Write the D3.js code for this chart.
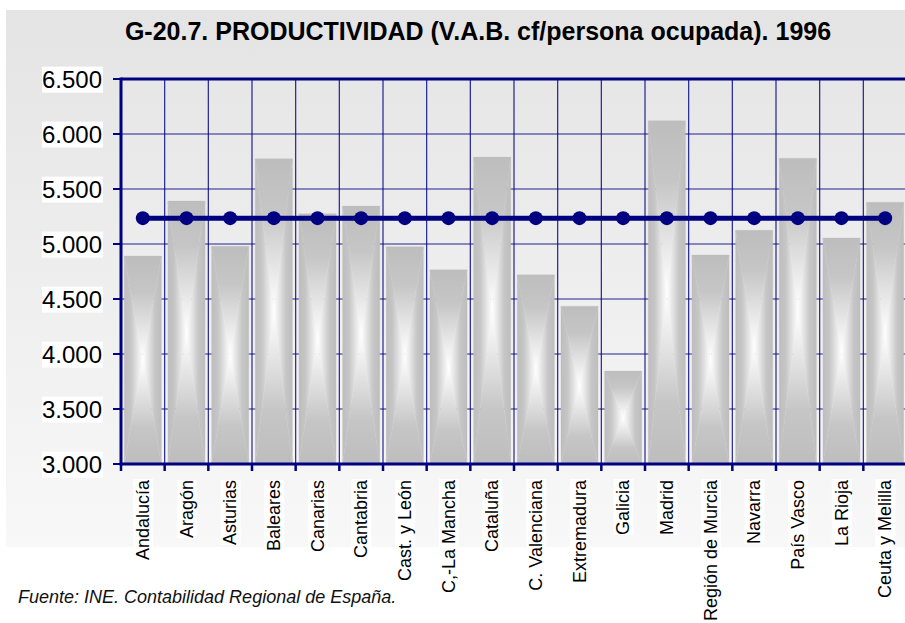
<!DOCTYPE html>
<html>
<head>
<meta charset="utf-8">
<script src="https://cdn.jsdelivr.net/npm/d3@7"></script>
<style>
  html, body { margin: 0; padding: 0; background: #fff; }
  svg { display: block; font-family: "Liberation Sans", Arial, sans-serif; }
</style>
</head>
<body>
<svg id="chart" width="905" height="623"></svg>
<script>
const categories = ["Andalucía","Aragón","Asturias","Baleares","Canarias","Cantabria","Cast. y León","C,-La Mancha","Cataluña","C. Valenciana","Extremadura","Galicia","Madrid","Región de Murcia","Navarra","País Vasco","La Rioja","Ceuta y Melilla"];
const productividad = [4890, 5390, 4980, 5775, 5275, 5345, 4975, 4765, 5790, 4720, 4435, 3845, 6120, 4900, 5125, 5780, 5055, 5380];
const media = [5235, 5235, 5235, 5235, 5235, 5235, 5235, 5235, 5235, 5235, 5235, 5235, 5235, 5235, 5235, 5235, 5235, 5235];
const yTicks = [3000, 3500, 4000, 4500, 5000, 5500, 6000, 6500];
const titleText = "G-20.7. PRODUCTIVIDAD (V.A.B. cf/persona ocupada). 1996";
const sourceText = "Fuente: INE. Contabilidad Regional de España.";

(function () {
const svg = d3.select("#chart");
const navy = "#000080";
const pL = 121, pR = 907, pT = 79, pB = 464;

const fmt = d => d3.format(",")(d).replace(/,/g, ".");

const defs = svg.append("defs");
const bg = defs.append("linearGradient").attr("id", "bg").attr("x1", 0).attr("y1", 0).attr("x2", 0).attr("y2", 1);
bg.append("stop").attr("offset", "0%").attr("stop-color", "#e4e4e4");
bg.append("stop").attr("offset", "100%").attr("stop-color", "#f8f8f8");

function grad(id, x1, y1, x2, y2) {
  const g = defs.append("linearGradient").attr("id", id)
    .attr("x1", x1).attr("y1", y1).attr("x2", x2).attr("y2", y2);
  g.append("stop").attr("offset", "0%").attr("stop-color", "#bdbdbd");
  g.append("stop").attr("offset", "35%").attr("stop-color", "#c6c6c6");
  g.append("stop").attr("offset", "100%").attr("stop-color", "#ffffff");
}
grad("gT", 0, 0, 0, 1);
grad("gB", 0, 1, 0, 0);
grad("gL", 0, 0, 1, 0);
grad("gR", 1, 0, 0, 0);

// chart background
svg.append("rect").attr("x", 6).attr("y", 10).attr("width", 905 - 6).attr("height", 547 - 10).attr("fill", "url(#bg)");

const x = d3.scaleBand().domain(categories).range([pL, pR]).padding(0);
const y = d3.scaleLinear().domain([3000, 6500]).range([pB, pT]);

// grid
const grid = svg.append("g");
grid.selectAll("line.h").data(yTicks.slice(1, -1)).join("line")
  .attr("x1", pL).attr("x2", pR)
  .attr("y1", d => y(d)).attr("y2", d => y(d))
  .attr("stroke", navy).attr("stroke-width", 1.2).attr("opacity", 0.85);
grid.selectAll("line.v").data(categories.slice(1)).join("line")
  .attr("x1", d => x(d)).attr("x2", d => x(d))
  .attr("y1", pT).attr("y2", pB)
  .attr("stroke", navy).attr("stroke-width", 1.2).attr("opacity", 0.85);

// bars with rectangular "from center" gradient
const bw = x.bandwidth() * 0.85;
const bars = svg.append("g");
categories.forEach((c, i) => {
  const x0 = x(c) + (x.bandwidth() - bw) / 2, x1 = x0 + bw;
  const y0 = y(productividad[i]), y1 = y(3000);
  const cx = (x0 + x1) / 2, cy = (y0 + y1) / 2;
  const g = bars.append("g");
  const poly = (pts, fill) => g.append("polygon").attr("points", pts.map(p => p.join(",")).join(" "))
    .attr("fill", fill).attr("stroke", fill).attr("stroke-width", 0.3);
  poly([[x0, y0], [x1, y0], [cx, cy]], "url(#gT)");
  poly([[x0, y1], [x1, y1], [cx, cy]], "url(#gB)");
  poly([[x0, y0], [x0, y1], [cx, cy]], "url(#gL)");
  poly([[x1, y0], [x1, y1], [cx, cy]], "url(#gR)");
});

// frame / axes
svg.append("line").attr("x1", pL).attr("x2", pR).attr("y1", pT).attr("y2", pT).attr("stroke", navy).attr("stroke-width", 3);
svg.append("line").attr("x1", pL).attr("x2", pL).attr("y1", pT - 1.5).attr("y2", pB + 1.5).attr("stroke", navy).attr("stroke-width", 3);
svg.append("line").attr("x1", pL).attr("x2", pR).attr("y1", pB).attr("y2", pB).attr("stroke", navy).attr("stroke-width", 3);

// y ticks & labels
const yAxis = svg.append("g");
yAxis.selectAll("line").data(yTicks).join("line")
  .attr("x1", 113).attr("x2", pL).attr("y1", d => y(d)).attr("y2", d => y(d))
  .attr("stroke", navy).attr("stroke-width", 2);
const yl = yAxis.selectAll("g.lab").data(yTicks).join("g").attr("class", "lab");
yl.append("rect").attr("fill", "#fff");
yl.append("text").attr("x", 102).attr("y", d => y(d)).attr("dy", "0.36em")
  .attr("text-anchor", "end").attr("font-size", 24).attr("fill", "#000").text(d => fmt(d));
yl.each(function() {
  const t = d3.select(this).select("text").node().getBBox();
  d3.select(this).select("rect").attr("x", t.x).attr("y", t.y + 1).attr("width", t.width + 1).attr("height", t.height - 1);
});

// x ticks & labels
const xAxis = svg.append("g");
xAxis.selectAll("line").data(categories.concat(["__end"])).join("line")
  .attr("x1", (d, i) => pL + i * x.step()).attr("x2", (d, i) => pL + i * x.step())
  .attr("y1", pB).attr("y2", 471)
  .attr("stroke", navy).attr("stroke-width", 2.5);
const xl = xAxis.selectAll("g.lab").data(categories).join("g").attr("class", "lab")
  .attr("transform", d => `translate(${x(d) + x.bandwidth() / 2},480) rotate(-90)`);
xl.append("rect").attr("fill", "#fff");
xl.append("text").attr("x", 0).attr("y", 0).attr("dy", "0.35em").attr("text-anchor", "end")
  .attr("font-size", 18).attr("fill", "#000").text(d => d);
xl.each(function() {
  const t = d3.select(this).select("text").node().getBBox();
  d3.select(this).select("rect").attr("x", t.x).attr("y", t.y).attr("width", t.width).attr("height", t.height);
});

// average line
const line = d3.line().x((d, i) => x(categories[i]) + x.bandwidth() / 2).y(d => y(d));
svg.append("path").datum(media).attr("d", line).attr("fill", "none").attr("stroke", navy).attr("stroke-width", 5);
svg.append("g").selectAll("circle").data(media).join("circle")
  .attr("cx", (d, i) => x(categories[i]) + x.bandwidth() / 2).attr("cy", d => y(d)).attr("r", 7)
  .attr("fill", navy);

// title
svg.append("text").attr("x", 478).attr("y", 40).attr("text-anchor", "middle")
  .attr("font-size", 25).attr("font-weight", "bold").attr("fill", "#000").text(titleText);

// source
svg.append("text").attr("x", 18).attr("y", 603).attr("font-size", 18).attr("font-style", "italic")
  .attr("fill", "#111").text(sourceText);
})();
</script>
</body>
</html>
